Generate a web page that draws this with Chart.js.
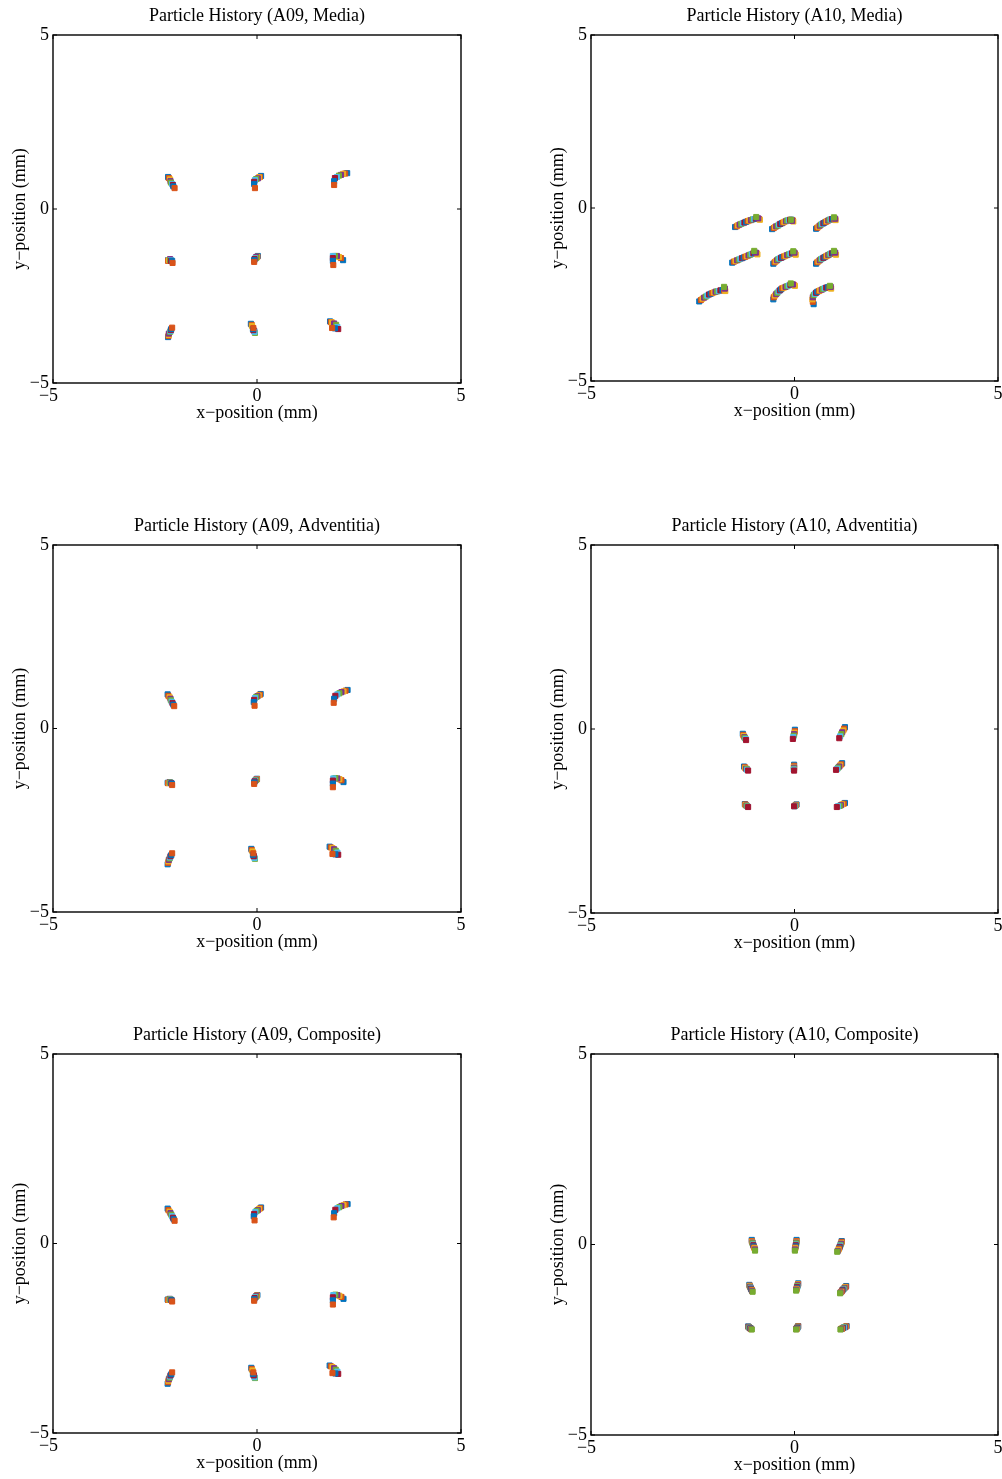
<!DOCTYPE html>
<html>
<head>
<meta charset="utf-8">
<title>Particle History</title>
<script src="https://cdn.jsdelivr.net/npm/chart.js@4.4.0/dist/chart.umd.min.js"></script>
<style>
  html, body { margin: 0; padding: 0; background: #fff; overflow: hidden; }
  body { width: 1002px; height: 1479px; position: relative; }
  canvas { position: absolute; }
</style>
</head>
<body>
<canvas id="a09Media"></canvas>
<canvas id="a10Media"></canvas>
<canvas id="a09Adventitia"></canvas>
<canvas id="a10Adventitia"></canvas>
<canvas id="a09Composite"></canvas>
<canvas id="a10Composite"></canvas>
<script>
// ========================================
// Particle history data (mm), one row per particle, one column per time step
// ========================================

const axisTicks = [-5, 0, 5];

// A09, Media (9 steps)
const a09MediaX = [
  [-2.18, -2.16, -2.13, -2.12, -2.11, -2.08, -2.06, -2.05, -2.02],
  [0.10, 0.07, 0.05, 0.02, -0.02, -0.05, -0.07, -0.07, -0.05],
  [2.21, 2.16, 2.11, 2.06, 2.01, 1.96, 1.91, 1.89, 1.89],
  [-2.18, -2.18, -2.16, -2.13, -2.13, -2.11, -2.11, -2.08, -2.07],
  [0.02, 0.01, 0.00, -0.02, -0.02, -0.05, -0.06, -0.07, -0.07],
  [2.11, 2.06, 2.01, 1.96, 1.91, 1.86, 1.86, 1.86, 1.87],
  [-2.18, -2.17, -2.16, -2.16, -2.13, -2.12, -2.11, -2.10, -2.08],
  [-0.15, -0.13, -0.12, -0.07, -0.05, -0.06, -0.09, -0.10, -0.09],
  [1.79, 1.81, 1.84, 1.89, 1.94, 1.97, 1.99, 1.91, 1.84]
];
const a09MediaY = [
  [0.92, 0.89, 0.85, 0.80, 0.76, 0.72, 0.69, 0.65, 0.60],
  [0.95, 0.92, 0.91, 0.88, 0.86, 0.83, 0.78, 0.72, 0.60],
  [1.03, 1.02, 1.01, 0.98, 0.96, 0.92, 0.89, 0.80, 0.69],
  [-1.47, -1.49, -1.47, -1.44, -1.47, -1.47, -1.49, -1.49, -1.55],
  [-1.35, -1.37, -1.38, -1.38, -1.41, -1.42, -1.44, -1.47, -1.52],
  [-1.47, -1.41, -1.38, -1.35, -1.35, -1.35, -1.41, -1.49, -1.61],
  [-3.68, -3.65, -3.62, -3.58, -3.53, -3.51, -3.48, -3.45, -3.41],
  [-3.30, -3.33, -3.36, -3.50, -3.56, -3.53, -3.48, -3.45, -3.42],
  [-3.23, -3.25, -3.26, -3.29, -3.33, -3.39, -3.45, -3.43, -3.42]
];

// A09, Adventitia (9 steps)
const a09AdvX = [
  [-2.19, -2.17, -2.14, -2.12, -2.11, -2.09, -2.07, -2.05, -2.03],
  [0.09, 0.07, 0.04, 0.01, -0.02, -0.05, -0.07, -0.08, -0.06],
  [2.22, 2.17, 2.12, 2.07, 2.02, 1.97, 1.92, 1.89, 1.88],
  [-2.19, -2.18, -2.16, -2.14, -2.13, -2.11, -2.10, -2.09, -2.08],
  [0.00, 0.00, -0.01, -0.02, -0.03, -0.05, -0.06, -0.07, -0.07],
  [2.12, 2.07, 2.02, 1.97, 1.92, 1.87, 1.86, 1.86, 1.86],
  [-2.19, -2.18, -2.17, -2.16, -2.14, -2.13, -2.12, -2.10, -2.08],
  [-0.14, -0.13, -0.11, -0.08, -0.05, -0.06, -0.08, -0.10, -0.09],
  [1.78, 1.81, 1.85, 1.89, 1.93, 1.97, 1.99, 1.92, 1.85]
];
const a09AdvY = [
  [0.93, 0.89, 0.85, 0.81, 0.77, 0.73, 0.69, 0.65, 0.61],
  [0.94, 0.92, 0.90, 0.88, 0.86, 0.83, 0.78, 0.72, 0.62],
  [1.05, 1.03, 1.01, 0.99, 0.96, 0.93, 0.89, 0.81, 0.70],
  [-1.48, -1.49, -1.48, -1.46, -1.47, -1.48, -1.49, -1.50, -1.54],
  [-1.37, -1.38, -1.38, -1.39, -1.41, -1.42, -1.44, -1.47, -1.51],
  [-1.46, -1.41, -1.38, -1.36, -1.35, -1.36, -1.42, -1.50, -1.60],
  [-3.70, -3.66, -3.62, -3.58, -3.54, -3.51, -3.48, -3.45, -3.40],
  [-3.28, -3.31, -3.35, -3.48, -3.55, -3.53, -3.48, -3.44, -3.40],
  [-3.22, -3.24, -3.26, -3.29, -3.33, -3.38, -3.44, -3.43, -3.42]
];

// A09, Composite (9 steps)
const a09CompX = [
  [-2.19, -2.17, -2.14, -2.12, -2.10, -2.08, -2.06, -2.04, -2.02],
  [0.10, 0.08, 0.05, 0.02, -0.01, -0.04, -0.07, -0.08, -0.06],
  [2.22, 2.17, 2.12, 2.07, 2.02, 1.97, 1.92, 1.89, 1.88],
  [-2.19, -2.18, -2.16, -2.14, -2.13, -2.11, -2.10, -2.09, -2.08],
  [0.01, 0.00, -0.01, -0.02, -0.03, -0.05, -0.06, -0.07, -0.07],
  [2.12, 2.07, 2.02, 1.97, 1.92, 1.87, 1.86, 1.86, 1.86],
  [-2.19, -2.18, -2.17, -2.16, -2.14, -2.13, -2.12, -2.10, -2.08],
  [-0.14, -0.13, -0.11, -0.08, -0.05, -0.06, -0.08, -0.10, -0.09],
  [1.78, 1.81, 1.85, 1.89, 1.93, 1.97, 1.99, 1.92, 1.85]
];
const a09CompY = [
  [0.92, 0.88, 0.84, 0.80, 0.76, 0.72, 0.68, 0.64, 0.60],
  [0.95, 0.93, 0.91, 0.88, 0.86, 0.83, 0.78, 0.72, 0.61],
  [1.04, 1.03, 1.01, 0.99, 0.96, 0.93, 0.89, 0.80, 0.69],
  [-1.48, -1.49, -1.48, -1.46, -1.47, -1.48, -1.49, -1.50, -1.53],
  [-1.36, -1.37, -1.38, -1.39, -1.41, -1.42, -1.44, -1.47, -1.51],
  [-1.46, -1.41, -1.38, -1.36, -1.35, -1.36, -1.42, -1.50, -1.61],
  [-3.70, -3.66, -3.62, -3.58, -3.54, -3.51, -3.48, -3.45, -3.40],
  [-3.28, -3.31, -3.35, -3.48, -3.55, -3.53, -3.48, -3.44, -3.40],
  [-3.22, -3.24, -3.26, -3.29, -3.33, -3.38, -3.44, -3.43, -3.42]
];

// A10, Media (19 steps)
const a10MediaX = [
  [-1.46, -1.42, -1.39, -1.35, -1.31, -1.27, -1.23, -1.19, -1.15, -1.11, -1.07, -1.03, -0.99, -0.95, -0.91, -0.87, -0.85, -0.89, -0.94],
  [-0.55, -0.51, -0.48, -0.45, -0.41, -0.38, -0.35, -0.31, -0.28, -0.25, -0.21, -0.18, -0.14, -0.11, -0.07, -0.04, -0.03, -0.06, -0.09],
  [0.53, 0.56, 0.59, 0.62, 0.65, 0.68, 0.71, 0.74, 0.77, 0.80, 0.83, 0.86, 0.89, 0.92, 0.95, 0.98, 1.01, 1.00, 0.97],
  [-1.53, -1.49, -1.45, -1.41, -1.37, -1.33, -1.29, -1.25, -1.21, -1.17, -1.13, -1.09, -1.05, -1.01, -0.97, -0.93, -0.91, -0.95, -0.99],
  [-0.52, -0.49, -0.46, -0.43, -0.40, -0.37, -0.33, -0.30, -0.26, -0.22, -0.18, -0.14, -0.10, -0.06, -0.02, 0.01, 0.03, 0.00, -0.03],
  [0.53, 0.56, 0.59, 0.62, 0.65, 0.68, 0.71, 0.74, 0.77, 0.80, 0.83, 0.86, 0.89, 0.92, 0.96, 0.99, 1.02, 1.00, 0.97],
  [-2.34, -2.30, -2.26, -2.22, -2.18, -2.14, -2.10, -2.06, -2.02, -1.98, -1.94, -1.90, -1.86, -1.82, -1.77, -1.73, -1.70, -1.71, -1.73],
  [-0.52, -0.51, -0.48, -0.45, -0.42, -0.39, -0.36, -0.33, -0.30, -0.26, -0.22, -0.18, -0.14, -0.10, -0.06, -0.02, 0.01, -0.04, -0.09],
  [0.47, 0.45, 0.44, 0.45, 0.47, 0.50, 0.53, 0.56, 0.60, 0.63, 0.67, 0.70, 0.74, 0.78, 0.82, 0.86, 0.90, 0.89, 0.87]
];
const a10MediaY = [
  [-0.55, -0.53, -0.50, -0.48, -0.46, -0.44, -0.42, -0.40, -0.38, -0.36, -0.35, -0.33, -0.32, -0.31, -0.31, -0.32, -0.34, -0.30, -0.26],
  [-0.61, -0.58, -0.55, -0.53, -0.51, -0.48, -0.46, -0.44, -0.42, -0.40, -0.38, -0.36, -0.35, -0.34, -0.34, -0.36, -0.39, -0.37, -0.34],
  [-0.60, -0.57, -0.54, -0.51, -0.48, -0.46, -0.44, -0.42, -0.40, -0.38, -0.36, -0.34, -0.33, -0.32, -0.32, -0.33, -0.35, -0.31, -0.27],
  [-1.58, -1.55, -1.53, -1.51, -1.49, -1.47, -1.45, -1.43, -1.41, -1.39, -1.37, -1.35, -1.33, -1.31, -1.30, -1.31, -1.34, -1.29, -1.24],
  [-1.61, -1.57, -1.54, -1.51, -1.48, -1.46, -1.44, -1.42, -1.40, -1.38, -1.36, -1.34, -1.32, -1.31, -1.30, -1.32, -1.35, -1.29, -1.25],
  [-1.61, -1.57, -1.54, -1.51, -1.48, -1.46, -1.44, -1.42, -1.40, -1.38, -1.36, -1.34, -1.32, -1.31, -1.30, -1.32, -1.35, -1.29, -1.24],
  [-2.70, -2.66, -2.62, -2.59, -2.56, -2.53, -2.50, -2.48, -2.46, -2.44, -2.42, -2.41, -2.40, -2.38, -2.37, -2.38, -2.40, -2.33, -2.28],
  [-2.64, -2.58, -2.53, -2.49, -2.45, -2.41, -2.38, -2.35, -2.32, -2.30, -2.28, -2.26, -2.24, -2.22, -2.21, -2.22, -2.25, -2.21, -2.18],
  [-2.78, -2.71, -2.64, -2.58, -2.52, -2.48, -2.45, -2.42, -2.40, -2.38, -2.36, -2.34, -2.32, -2.30, -2.29, -2.30, -2.33, -2.28, -2.25]
];

// A10, Adventitia (7 steps)
const a10AdvX = [
  [-1.27, -1.26, -1.25, -1.23, -1.22, -1.20, -1.19],
  [0.01, 0.01, 0.00, -0.01, -0.02, -0.03, -0.04],
  [1.24, 1.22, 1.20, 1.17, 1.15, 1.12, 1.10],
  [-1.24, -1.22, -1.21, -1.19, -1.17, -1.16, -1.14],
  [-0.01, -0.01, -0.02, -0.01, -0.01, -0.02, -0.01],
  [1.17, 1.15, 1.12, 1.10, 1.07, 1.05, 1.02],
  [-1.22, -1.21, -1.20, -1.18, -1.17, -1.15, -1.14],
  [0.05, 0.04, 0.03, 0.02, 0.01, 0.00, -0.01],
  [1.24, 1.21, 1.17, 1.14, 1.11, 1.07, 1.04]
];
const a10AdvY = [
  [-0.13, -0.16, -0.19, -0.22, -0.24, -0.27, -0.30],
  [-0.02, -0.06, -0.10, -0.14, -0.18, -0.22, -0.27],
  [0.05, 0.01, -0.04, -0.09, -0.14, -0.20, -0.25],
  [-1.02, -1.04, -1.06, -1.08, -1.09, -1.11, -1.13],
  [-0.97, -1.00, -1.03, -1.05, -1.08, -1.10, -1.13],
  [-0.93, -0.96, -0.99, -1.02, -1.05, -1.08, -1.11],
  [-2.04, -2.05, -2.07, -2.08, -2.09, -2.11, -2.12],
  [-2.05, -2.06, -2.07, -2.08, -2.09, -2.10, -2.10],
  [-2.01, -2.03, -2.05, -2.07, -2.09, -2.10, -2.12]
];

// A10, Composite (12 steps)
const a10CompX = [
  [-1.05, -1.05, -1.04, -1.03, -1.03, -1.02, -1.01, -1.00, -0.99, -0.98, -0.97, -0.97],
  [0.05, 0.05, 0.05, 0.04, 0.04, 0.04, 0.03, 0.03, 0.02, 0.02, 0.01, 0.01],
  [1.16, 1.16, 1.15, 1.14, 1.13, 1.12, 1.11, 1.10, 1.09, 1.08, 1.06, 1.05],
  [-1.11, -1.10, -1.10, -1.09, -1.08, -1.07, -1.07, -1.06, -1.05, -1.04, -1.04, -1.03],
  [0.09, 0.09, 0.08, 0.08, 0.07, 0.07, 0.06, 0.06, 0.05, 0.05, 0.04, 0.04],
  [1.27, 1.26, 1.24, 1.23, 1.21, 1.20, 1.18, 1.17, 1.16, 1.14, 1.13, 1.12],
  [-1.14, -1.13, -1.12, -1.12, -1.11, -1.10, -1.09, -1.08, -1.07, -1.07, -1.06, -1.05],
  [0.09, 0.09, 0.08, 0.08, 0.07, 0.07, 0.06, 0.06, 0.05, 0.05, 0.04, 0.04],
  [1.28, 1.27, 1.25, 1.24, 1.22, 1.21, 1.19, 1.18, 1.17, 1.15, 1.14, 1.13]
];
const a10CompY = [
  [0.12, 0.09, 0.07, 0.05, 0.03, 0.00, -0.02, -0.05, -0.08, -0.10, -0.13, -0.16],
  [0.12, 0.09, 0.07, 0.05, 0.03, 0.00, -0.02, -0.05, -0.08, -0.10, -0.13, -0.16],
  [0.09, 0.07, 0.04, 0.02, -0.01, -0.03, -0.06, -0.09, -0.11, -0.14, -0.17, -0.19],
  [-1.06, -1.08, -1.09, -1.11, -1.13, -1.14, -1.16, -1.18, -1.19, -1.21, -1.22, -1.24],
  [-1.02, -1.04, -1.05, -1.07, -1.09, -1.11, -1.12, -1.14, -1.16, -1.18, -1.19, -1.21],
  [-1.09, -1.11, -1.12, -1.14, -1.16, -1.18, -1.19, -1.21, -1.23, -1.25, -1.26, -1.28],
  [-2.15, -2.16, -2.17, -2.17, -2.18, -2.19, -2.20, -2.20, -2.21, -2.22, -2.22, -2.23],
  [-2.14, -2.15, -2.16, -2.17, -2.18, -2.19, -2.19, -2.20, -2.21, -2.22, -2.22, -2.23],
  [-2.14, -2.15, -2.16, -2.17, -2.17, -2.18, -2.19, -2.20, -2.21, -2.21, -2.22, -2.23]
];

// MATLAB default colour order, cycled per time step
const stepColors = ['#0072BD', '#D95319', '#EDB120', '#7E2F8E', '#77AC30', '#4DBEEE', '#A2142F'];

// Panel placement: plot box [left, top, right, bottom] in page pixels
const panels = [
  { id: 'a09Media', title: 'Particle History (A09, Media)', xs: a09MediaX, ys: a09MediaY, box: [53, 35, 461, 383] },
  { id: 'a10Media', title: 'Particle History (A10, Media)', xs: a10MediaX, ys: a10MediaY, box: [591, 35, 998, 381] },
  { id: 'a09Adventitia', title: 'Particle History (A09, Adventitia)', xs: a09AdvX, ys: a09AdvY, box: [53, 545, 461, 912] },
  { id: 'a10Adventitia', title: 'Particle History (A10, Adventitia)', xs: a10AdvX, ys: a10AdvY, box: [591, 545, 998, 913] },
  { id: 'a09Composite', title: 'Particle History (A09, Composite)', xs: a09CompX, ys: a09CompY, box: [53, 1054, 461, 1433] },
  { id: 'a10Composite', title: 'Particle History (A10, Composite)', xs: a10CompX, ys: a10CompY, box: [591, 1054, 998, 1435] }
];

const SIDE = 53;     // y-axis box width (mirrored by an empty right axis)
const TOP = 34;      // title box height
const BOTTOM = 45;   // x-axis box height

Chart.defaults.font.family = '"Liberation Serif", "Times New Roman", serif';
Chart.defaults.font.size = 18;
Chart.defaults.color = '#000';

const fmtY = v => (v < 0 ? '\u2212' : '') + Math.abs(v);
// the x "−5" sits with its digit on the tick, the minus hanging left
const fmtX = v => (v < 0 ? '\u2212' + Math.abs(v) + '\u2002' : String(v));

// Box round the plot area with inward tick marks
const framePlugin = {
  id: 'frame',
  afterDraw(chart) {
    const { ctx, chartArea: a, scales: { x, y } } = chart;
    ctx.save();
    ctx.strokeStyle = '#000';
    ctx.lineWidth = 1.4;
    ctx.strokeRect(a.left, a.top, a.right - a.left, a.bottom - a.top);
    ctx.beginPath();
    x.ticks.forEach(t => {
      const px = x.getPixelForValue(t.value);
      ctx.moveTo(px, a.bottom); ctx.lineTo(px, a.bottom - 4);
      ctx.moveTo(px, a.top); ctx.lineTo(px, a.top + 4);
    });
    y.ticks.forEach(t => {
      const py = y.getPixelForValue(t.value);
      ctx.moveTo(a.left, py); ctx.lineTo(a.left + 4, py);
      ctx.moveTo(a.right, py); ctx.lineTo(a.right - 4, py);
    });
    ctx.lineWidth = 1;
    ctx.stroke();
    ctx.restore();
  }
};

function buildDatasets(xs, ys) {
  const steps = xs[0].length;
  const sets = [];
  for (let t = 0; t < steps; t++) {
    const color = stepColors[t % stepColors.length];
    sets.push({
      data: xs.map((row, p) => ({ x: row[t], y: ys[p][t] })),
      pointStyle: 'rect',
      pointRadius: 3.6,
      borderWidth: 1,
      backgroundColor: color,
      borderColor: color,
      order: steps - t   // later steps drawn on top
    });
  }
  return sets;
}

const fixedTicks = s => { s.ticks = axisTicks.map(v => ({ value: v })); };

function drawPanel(panel) {
  const [l, t, r, b] = panel.box;
  const canvas = document.getElementById(panel.id);
  canvas.width = (r - l) + 2 * SIDE;
  canvas.height = (b - t) + TOP + BOTTOM;
  canvas.style.left = (l - SIDE) + 'px';
  canvas.style.top = (t - TOP) + 'px';

  new Chart(canvas, {
    type: 'scatter',
    data: { datasets: buildDatasets(panel.xs, panel.ys) },
    plugins: [framePlugin],
    options: {
      responsive: false,
      animation: false,
      devicePixelRatio: 1,
      layout: { padding: 0 },
      plugins: {
        legend: { display: false },
        tooltip: { enabled: false },
        title: {
          display: true,
          text: panel.title,
          font: { size: 18, weight: 'normal' },
          padding: { top: 4, bottom: 8.4 }
        }
      },
      scales: {
        x: {
          type: 'linear',
          min: axisTicks[0],
          max: axisTicks[axisTicks.length - 1],
          afterBuildTicks: fixedTicks,
          afterFit: s => { s.height = BOTTOM; },
          grid: { display: false, drawTicks: false },
          border: { display: false },
          ticks: { padding: 2, maxRotation: 0, callback: fmtX },
          title: { display: true, text: 'x\u2212position (mm)', padding: { top: 0, bottom: 4 } }
        },
        y: {
          type: 'linear',
          min: axisTicks[0],
          max: axisTicks[axisTicks.length - 1],
          afterBuildTicks: fixedTicks,
          afterFit: s => { s.width = SIDE; },
          grid: { display: false, drawTicks: false },
          border: { display: false },
          ticks: { padding: 4, callback: fmtY },
          title: { display: true, text: 'y\u2212position (mm)', padding: { top: 9, bottom: 0 } }
        },
        yRight: {
          type: 'linear',
          position: 'right',
          min: axisTicks[0],
          max: axisTicks[axisTicks.length - 1],
          afterFit: s => { s.width = SIDE; },
          grid: { display: false, drawTicks: false },
          border: { display: false },
          ticks: { display: false }
        }
      }
    }
  });
}

panels.forEach(drawPanel);
</script>
</body>
</html>
